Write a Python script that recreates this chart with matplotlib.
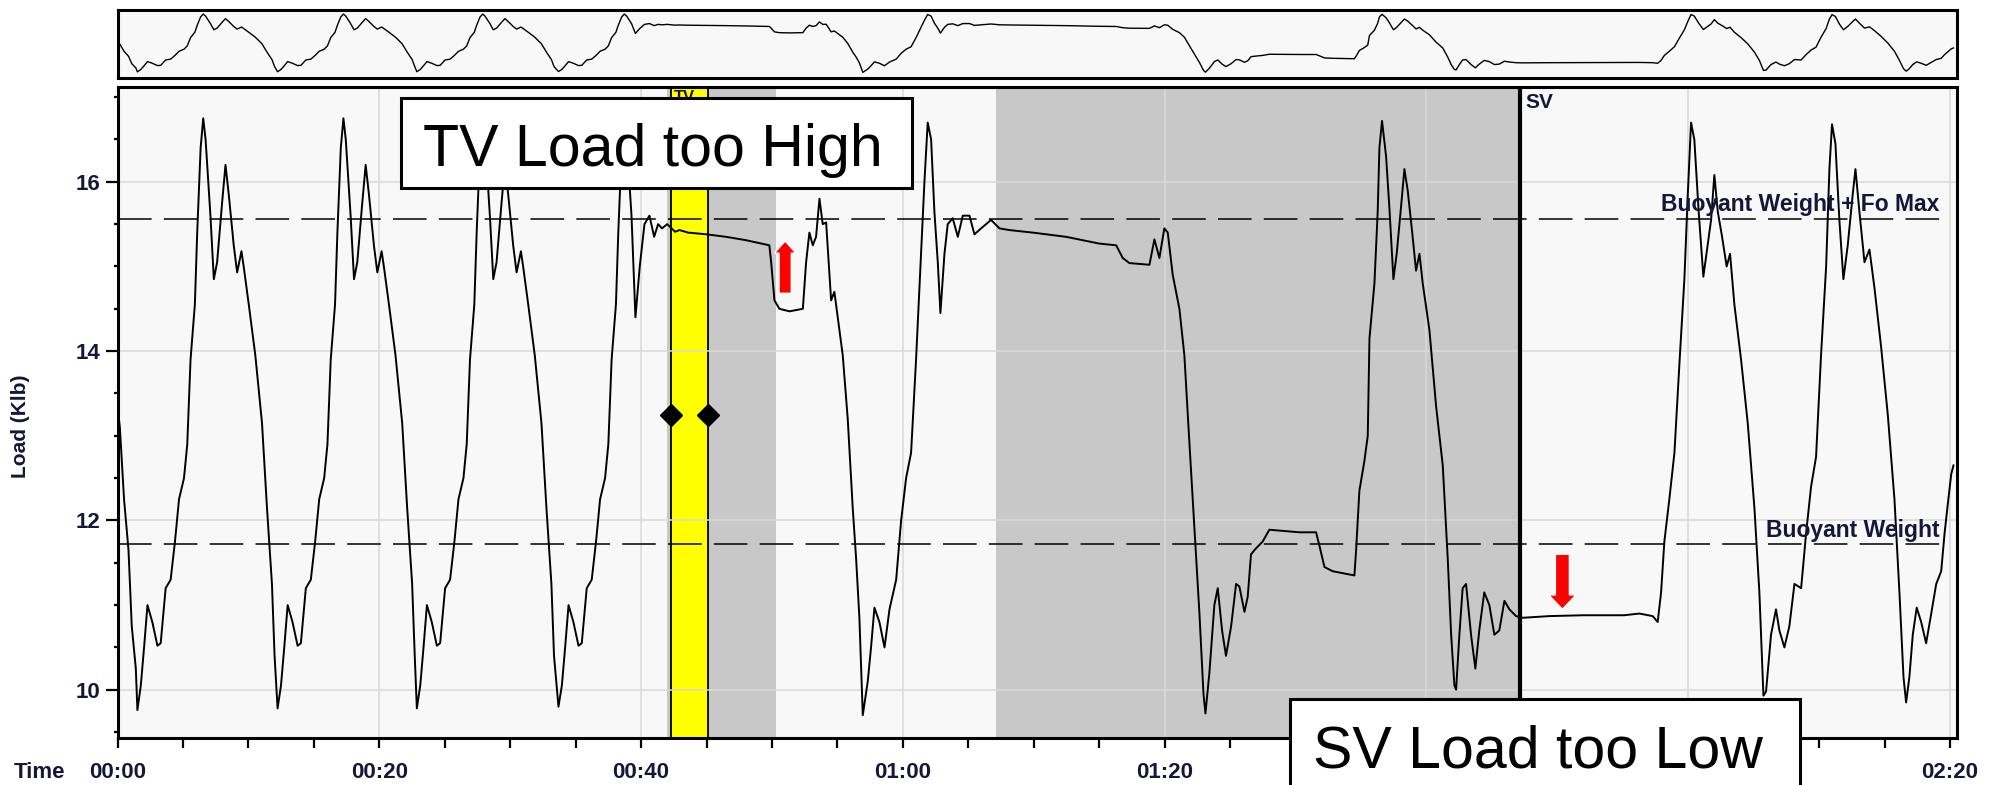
import matplotlib
matplotlib.use("Agg")
import matplotlib.pyplot as plt
from matplotlib.patches import Rectangle, FancyArrow
from matplotlib.ticker import MultipleLocator, FixedLocator, FixedFormatter

plt.rcParams['font.family'] = ['Liberation Sans', 'DejaVu Sans']

# ----------------------------
# Data
# ----------------------------
# time in seconds, load in klb
time_s = [
    0.00, 0.18, 0.50, 0.84, 1.09, 1.40,
    # stroke 1
    1.52, 1.78, 2.03, 2.29, 2.66, 3.05, 3.30, 3.68, 4.06, 4.39, 4.70, 5.08,
    5.33, 5.58, 5.91, 6.09, 6.35, 6.55, 6.73, 7.10, 7.36, 7.61, 7.99, 8.25,
    8.50, 8.88, 9.14, 9.47, 9.64, 10.03, 10.53, 11.04, 11.42, 11.80, 12.00,
    # stroke 2
    12.23, 12.49, 12.74, 13.00, 13.37, 13.76, 14.01, 14.39, 14.77, 15.10, 15.41, 15.79,
    16.04, 16.29, 16.62, 16.80, 17.06, 17.26, 17.44, 17.81, 18.07, 18.32, 18.70, 18.96,
    19.21, 19.59, 19.85, 20.18, 20.35, 20.74, 21.24, 21.75, 22.13, 22.51, 22.71,
    # stroke 3
    22.87, 23.13, 23.38, 23.64, 24.01, 24.40, 24.65, 25.03, 25.41, 25.74, 26.05, 26.43,
    26.68, 26.93, 27.26, 27.44, 27.70, 27.90, 28.08, 28.45, 28.71, 28.96, 29.34, 29.60,
    29.85, 30.23, 30.49, 30.82, 30.99, 31.38, 31.88, 32.39, 32.77, 33.15, 33.35,
    # stroke 4 -> stuck on upstroke
    33.69, 33.95, 34.20, 34.46, 34.83, 35.22, 35.47, 35.85, 36.23, 36.56, 36.87, 37.25,
    37.50, 37.75, 38.08, 38.26, 38.52, 38.72, 38.90, 39.27, 39.57, 39.90, 40.26, 40.64,
    41.00, 41.30, 41.60, 42.00, 42.60, 42.93, 43.60, 44.97, 46.50, 48.03, 49.80, 49.94,
    50.19, 50.57, 51.34, 52.36, 52.61, 52.86, 53.12, 53.37, 53.63, 53.88, 54.14, 54.52,
    54.77, 55.41, 55.79, 56.17, 56.43, 56.68, 56.94, 57.32, 57.57, 57.83, 58.21, 58.60,
    58.98, 59.49, 59.87, 60.25, 60.63, 61.01, 61.39, 61.65, 61.90, 62.16, 62.41, 62.67,
    62.87, 63.18, 63.43, 63.81, 64.20, 64.58, 65.09, 65.47, 65.98, 66.74, 67.38, 68.14,
    69.93, 72.48, 75.02, 76.30, 76.80, 77.31, 78.84, 79.22, 79.60, 79.98, 80.24, 80.62,
    81.13, 81.51, 81.90, 82.28, 82.66, 82.97, 83.12, 83.42, 83.80, 84.06, 84.39, 84.69,
    85.08, 85.46, 85.71, 86.10, 86.35, 86.60, 86.98, 87.49, 88.00, 90.30, 91.57, 91.83,
    92.21, 92.84, 94.50, 94.63, 94.88, 95.26, 95.52, 95.65, 96.03, 96.28, 96.41, 96.61,
    96.92, 97.17, 97.48, 97.73, 98.06, 98.32, 98.57, 98.95, 99.21, 99.47, 99.72, 100.23,
    100.74, 101.25, 101.63, 101.89, 102.14, 102.27, 102.52, 102.77, 103.03, 103.41, 103.74, 104.04,
    104.42, 104.81, 105.19, 105.57, 105.96, 106.34, 106.85, 107.36, 109.40, 112.00, 115.10, 116.27,
    117.29, 117.67, 117.93, 118.18, 118.56, 118.95, 119.33, 119.71, 119.97, 120.22, 120.47, 120.80,
    121.16, 121.49, 121.75, 122.00, 122.26, 122.59, 122.94, 123.20, 123.53, 124.04, 124.55, 125.06,
    125.44, 125.75, 125.95, 126.33, 126.71, 126.97, 127.35, 127.73, 128.12, 128.63, 129.01, 129.39,
    129.77, 130.15, 130.54, 130.79, 130.99, 131.25, 131.55, 131.86, 132.19, 132.57, 132.78, 133.08,
    133.47, 133.85, 134.23, 134.74, 135.25, 135.76, 136.14, 136.45, 136.65, 136.90, 137.16, 137.46,
    137.80, 138.18, 138.57, 138.95, 139.33, 139.59, 139.84, 140.10, 140.27,
]
load_klb = [
    13.35, 13.10, 12.25, 11.65, 10.75, 10.25,
    9.76, 10.05, 10.50, 11.00, 10.80, 10.52, 10.55, 11.20, 11.30, 11.75, 12.25, 12.50,
    12.90, 13.90, 14.55, 15.40, 16.40, 16.75, 16.50, 15.60, 14.85, 15.05, 15.75, 16.20,
    15.85, 15.25, 14.93, 15.18, 15.00, 14.55, 13.95, 13.15, 12.15, 11.25, 10.40,
    9.78, 10.05, 10.50, 11.00, 10.80, 10.52, 10.55, 11.20, 11.30, 11.75, 12.25, 12.50,
    12.90, 13.90, 14.55, 15.40, 16.40, 16.75, 16.50, 15.60, 14.85, 15.05, 15.75, 16.20,
    15.85, 15.25, 14.93, 15.18, 15.00, 14.55, 13.95, 13.15, 12.15, 11.25, 10.40,
    9.78, 10.05, 10.50, 11.00, 10.80, 10.52, 10.55, 11.20, 11.30, 11.75, 12.25, 12.50,
    12.90, 13.90, 14.55, 15.40, 16.40, 16.75, 16.50, 15.60, 14.85, 15.05, 15.75, 16.20,
    15.85, 15.25, 14.93, 15.18, 15.00, 14.55, 13.95, 13.15, 12.15, 11.25, 10.40,
    9.80, 10.05, 10.50, 11.00, 10.80, 10.52, 10.55, 11.20, 11.30, 11.75, 12.25, 12.50,
    12.90, 13.90, 14.55, 15.40, 16.40, 16.75, 16.50, 15.60, 14.40, 15.00, 15.50, 15.60,
    15.35, 15.50, 15.45, 15.50, 15.41, 15.43, 15.40, 15.38, 15.35, 15.31, 15.25, 15.05,
    14.60, 14.50, 14.47, 14.50, 15.05, 15.40, 15.25, 15.35, 15.80, 15.50, 15.52, 14.60,
    14.70, 13.95, 13.20, 12.15, 11.55, 10.85, 9.70, 10.10, 10.50, 10.97, 10.80, 10.50,
    10.95, 11.30, 12.00, 12.50, 12.80, 13.90, 15.15, 16.00, 16.70, 16.50, 15.65, 15.05,
    14.45, 15.15, 15.50, 15.57, 15.35, 15.60, 15.60, 15.38, 15.45, 15.55, 15.45, 15.43,
    15.40, 15.35, 15.27, 15.25, 15.10, 15.04, 15.02, 15.32, 15.10, 15.45, 15.40, 14.90,
    14.50, 13.95, 12.90, 11.90, 10.90, 9.95, 9.72, 10.20, 11.00, 11.20, 10.70, 10.40,
    10.75, 11.25, 11.22, 10.92, 11.10, 11.60, 11.67, 11.75, 11.89, 11.86, 11.86, 11.70,
    11.45, 11.40, 11.35, 11.65, 12.35, 12.70, 13.00, 14.15, 14.80, 15.65, 16.40, 16.72,
    16.30, 15.70, 14.85, 15.15, 15.70, 16.15, 15.90, 15.35, 14.95, 15.15, 14.80, 14.25,
    13.35, 12.65, 11.55, 10.65, 10.05, 10.00, 10.65, 11.20, 11.25, 10.65, 10.25, 10.70,
    11.15, 11.00, 10.65, 10.70, 11.05, 10.95, 10.87, 10.85, 10.87, 10.88, 10.88, 10.90,
    10.87, 10.80, 11.15, 11.75, 12.25, 12.80, 13.85, 14.85, 15.85, 16.70, 16.50, 15.65,
    14.88, 15.25, 15.55, 16.08, 15.65, 15.35, 15.00, 15.15, 14.55, 13.90, 13.15, 12.15,
    11.15, 9.93, 9.98, 10.65, 10.95, 10.70, 10.50, 10.75, 11.25, 11.20, 11.85, 12.40,
    12.75, 13.95, 15.00, 16.15, 16.68, 16.45, 15.55, 14.85, 15.25, 15.85, 16.15, 15.65,
    15.05, 15.20, 14.75, 14.05, 13.25, 12.25, 11.15, 10.15, 9.85, 10.15, 10.65, 10.97,
    10.80, 10.55, 10.90, 11.25, 11.40, 11.85, 12.20, 12.55, 12.65,
]

buoyant_fo_max = 15.565
buoyant_weight = 11.725
tv_band = (42.3, 45.1)          # yellow TV test window
gray_bands = [(42.0, 50.32), (67.1, 107.15)]
sv_time = 107.15
diamond_times = [42.3, 45.1]
diamond_load = 13.24

# 01:40 and 02:00 sit under the "SV Load too Low" callout in the original
x_ticks = [0, 20, 40, 60, 80, 100, 120, 140]
x_labels = ["00:00", "00:20", "00:40", "01:00", "01:20", "", "", "02:20"]
y_ticks = [10, 12, 14, 16]
y_labels = ["10", "12", "14", "16"]

# ----------------------------
# Figure layout (pixel based)
# ----------------------------
W, H = 1996, 785
fig = plt.figure(figsize=(W / 100, H / 100), dpi=100)
fig.patch.set_facecolor("white")

ax = fig.add_axes([117.5 / W, 47 / H, 1839 / W, 651 / H])
ov = fig.add_axes([117.5 / W, (H - 77.5) / H, 1839 / W, 67.5 / H])

bg = "#f8f8f8"
lab_col = "#16163a"

# ---- overview strip ----
ov.set_facecolor(bg)
ov.plot(time_s, load_klb, color="black", lw=1.0)
ov.set_xlim(0, 140.5)
ov.set_ylim(9.08, 17.24)
ov.set_xticks([])
ov.set_yticks([])
for s in ov.spines.values():
    s.set_linewidth(2.2)

# ---- main chart ----
ax.set_facecolor(bg)
for x0, x1 in gray_bands:
    ax.axvspan(x0, x1, color="#c8c8c8", lw=0)
ax.axvspan(tv_band[0], tv_band[1], facecolor="#ffff00", edgecolor="black", lw=1.3)

ax.grid(True, which="major", color="#d9d9d9", lw=1.1)

ax.plot(time_s, load_klb, color="black", lw=1.4, zorder=3)

dash = (0, (22, 8))
ax.hlines([buoyant_fo_max, buoyant_weight], 0, 139.7, colors="black",
          linestyles=[dash], lw=1.1, zorder=3.5)

ax.axvline(sv_time, color="black", lw=3, zorder=4)

ax.plot(diamond_times, [diamond_load] * 2, "D", color="black", ms=11, zorder=5)

# red arrows
ax.add_patch(FancyArrow(51.01, 14.683, 0, 0.617, width=0.94, head_width=1.66,
                        head_length=0.142, length_includes_head=True,
                        fc="#ff0000", ec="white", lw=1, zorder=6))
ax.add_patch(FancyArrow(110.39, 11.60, 0, -0.649, width=1.07, head_width=2.09,
                        head_length=0.169, length_includes_head=True,
                        fc="#ff0000", ec="white", lw=1, zorder=6))

ax.set_xlim(0, 140.5)
ax.set_ylim(9.43, 17.12)
ax.xaxis.set_major_locator(FixedLocator(x_ticks))
ax.xaxis.set_major_formatter(FixedFormatter(x_labels))
ax.xaxis.set_minor_locator(MultipleLocator(5))
ax.yaxis.set_major_locator(FixedLocator(y_ticks))
ax.yaxis.set_major_formatter(FixedFormatter(y_labels))
ax.yaxis.set_minor_locator(MultipleLocator(0.5))

ax.tick_params(axis="x", which="both", direction="out", length=7, width=1.6,
               pad=10, labelsize=16, labelcolor=lab_col)
ax.tick_params(axis="y", which="major", direction="out", length=9, width=1.6,
               pad=3, labelsize=16, labelcolor=lab_col)
ax.tick_params(axis="y", which="minor", direction="out", length=3, width=1.6)
for lab in ax.get_xticklabels() + ax.get_yticklabels():
    lab.set_fontweight("bold")
for s in ax.spines.values():
    s.set_linewidth(2.2)

# inline labels
ax.text(139.2, 15.65, "Buoyant Weight + Fo Max", ha="right", va="baseline",
        fontsize=16.5, fontweight="bold", color=lab_col, zorder=4)
ax.text(139.2, 11.81, "Buoyant Weight", ha="right", va="baseline",
        fontsize=16.5, fontweight="bold", color=lab_col, zorder=4)
ax.text(107.6, 17.05, "SV", ha="left", va="top", fontsize=15,
        fontweight="bold", color=lab_col, zorder=4)
ax.text(42.5, 17.08, "TV", ha="left", va="top", fontsize=12,
        fontweight="bold", color=lab_col, zorder=2)

fig.text(21 / W, 1 - 426 / H, "Load (Klb)", rotation=90, ha="center",
         va="center", fontsize=15, fontweight="bold", color=lab_col)
fig.text(14 / W, 1 - 778 / H, "Time", ha="left", va="baseline",
         fontsize=16, fontweight="bold", color=lab_col)

# ---- callout boxes ----
def callout(x0, y0, x1, y1, tx, ty, label):
    fig.add_artist(Rectangle((x0 / W, 1 - y1 / H), (x1 - x0) / W, (y1 - y0) / H,
                             transform=fig.transFigure, facecolor="white",
                             edgecolor="black", lw=2.2, zorder=10))
    fig.text(tx / W, 1 - ty / H, label, ha="left", va="baseline",
             fontsize=42.5, color="black", zorder=11)

callout(401, 97.5, 912, 188, 423, 165.5, "TV Load too High")
callout(1290, 699, 1800, 795, 1313, 767, "SV Load too Low")

fig.savefig("out.png", dpi=100)
